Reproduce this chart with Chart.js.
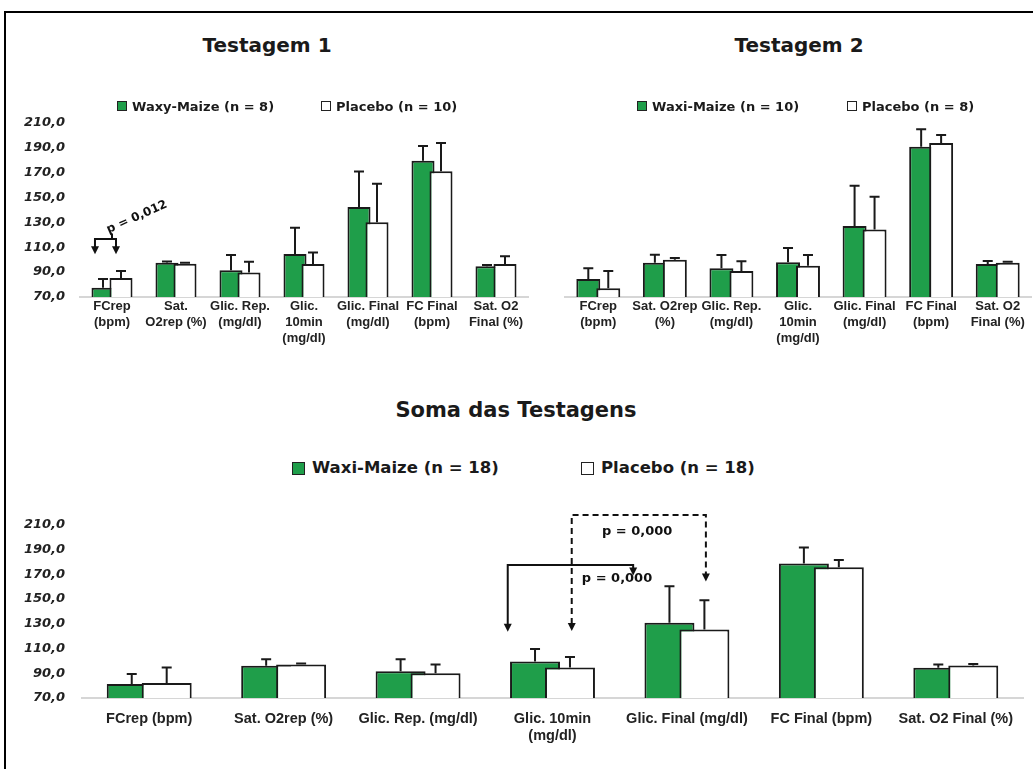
<!DOCTYPE html>
<html lang="pt">
<head>
<meta charset="utf-8">
<title>Testagens</title>
<script src="https://cdn.jsdelivr.net/npm/chart.js@4.4.1/dist/chart.umd.min.js"></script>
<style>
  html, body { margin: 0; padding: 0; background: #fff; }
  body { width: 1033px; height: 769px; position: relative; overflow: hidden; font-family: 'DejaVu Sans', sans-serif; color: #1a1a1a; }
  .frame { position: absolute; left: 4px; top: 11px; right: -4px; bottom: -4px; border-top: 2px solid #000; border-left: 2px solid #000; }
  .title { position: absolute; transform: translateX(-50%); font-weight: bold; white-space: nowrap; line-height: 1; }
  .legend { position: absolute; display: flex; align-items: center; font-weight: bold; white-space: nowrap; line-height: 1; }
  .legend i { display: inline-block; box-sizing: border-box; border: 1.5px solid #222; }
  .box { position: absolute; }
</style>
</head>
<body>
<div class="frame"></div>

<div class="title" style="left:267px; top:35px; font-size:20px">Testagem 1</div>
<div class="title" style="left:799px; top:35px; font-size:20px">Testagem 2</div>
<div class="title" style="left:516px; top:400px; font-size:21px">Soma das Testagens</div>

<div class="box" style="left:0; top:100px; width:540px; height:257px"><canvas id="t1"></canvas></div>
<div class="box" style="left:540px; top:100px; width:493px; height:257px"><canvas id="t2"></canvas></div>
<div class="box" style="left:0; top:500px; width:1033px; height:258px"><canvas id="soma"></canvas></div>

<script>
const yTicks = [70, 90, 110, 130, 150, 170, 190, 210]

// Testagem 1
const t1Labels = [['FCrep', '(bpm)'], ['Sat.', 'O2rep (%)'], ['Glic. Rep.', '(mg/dl)'], ['Glic.', '10min', '(mg/dl)'], ['Glic. Final', '(mg/dl)'], ['FC Final', '(bpm)'], ['Sat. O2', 'Final (%)']]
const t1Series = ['Waxy-Maize (n = 8)', 'Placebo (n = 10)']
const t1Waxy = [77.5, 97.6, 91.4, 104.5, 142.4, 179.6, 94.7]
const t1WaxySd = [7.0, 0.9, 12.4, 21.2, 28.4, 11.8, 1.0]
const t1Placebo = [85.2, 96.8, 89.6, 96.5, 130.1, 171.0, 96.5]
const t1PlaceboSd = [5.7, 0.7, 8.8, 9.3, 30.9, 22.7, 6.2]
const t1P = 'p = 0,012'

// Testagem 2
const t2Labels = [['FCrep', '(bpm)'], ['Sat. O2rep', '(%)'], ['Glic. Rep.', '(mg/dl)'], ['Glic.', '10min', '(mg/dl)'], ['Glic. Final', '(mg/dl)'], ['FC Final', '(bpm)'], ['Sat. O2', 'Final (%)']]
const t2Series = ['Waxi-Maize (n = 10)', 'Placebo (n = 8)']
const t2Waxi = [83.9, 96.5, 92.2, 96.8, 124.9, 186.3, 95.5]
const t2WaxiSd = [8.3, 6.2, 10.3, 11.1, 31.2, 13.4, 2.3]
const t2Placebo = [76.7, 98.8, 90.1, 94.2, 122.3, 189.1, 96.5]
const t2PlaceboSd = [13.4, 1.4, 7.5, 8.3, 25.3, 6.2, 0.7]

// Soma das testagens
const somaLabels = ['FCrep (bpm)', 'Sat. O2rep (%)', 'Glic. Rep. (mg/dl)', ['Glic. 10min', '(mg/dl)'], 'Glic. Final (mg/dl)', 'FC Final (bpm)', 'Sat. O2 Final (%)']
const somaSeries = ['Waxi-Maize (n = 18)', 'Placebo (n = 18)']
const somaWaxi = [81.3, 96.0, 91.7, 99.5, 130.9, 178.8, 94.4]
const somaWaxiSd = [8.0, 5.4, 9.7, 10.2, 29.4, 12.9, 2.7]
const somaPlacebo = [82.1, 97.1, 90.1, 94.7, 125.3, 175.6, 96.3]
const somaPlaceboSd = [12.6, 0.8, 7.0, 8.5, 23.8, 6.0, 1.1]
const somaP = ['p = 0,000', 'p = 0,000']

const GREEN = '#1f9e4a'
const EDGE = '#1a1a1a'

function arrowHead(ctx, x, tip, size) {
  ctx.beginPath()
  ctx.moveTo(x - size / 2, tip - size)
  ctx.lineTo(x + size / 2, tip - size)
  ctx.lineTo(x, tip)
  ctx.closePath()
  ctx.fill()
}

// white bars are drawn over the green ones (Excel-like overlap), then the error bars
const overlapDraw = {
  id: 'overlapDraw',
  beforeDatasetsDraw(chart, args, opts) {
    const ctx = chart.ctx
    const area = chart.chartArea
    const y = chart.scales.y
    ctx.save()
    ctx.beginPath()
    ctx.rect(area.left, 0, area.right - area.left, area.bottom)
    ctx.clip()
    chart.data.datasets.forEach((ds, i) => chart.getDatasetMeta(i).controller.draw())
    ctx.strokeStyle = EDGE
    ctx.lineWidth = 2
    chart.data.datasets.forEach((ds, i) => {
      chart.getDatasetMeta(i).data.forEach((bar, j) => {
        const top = y.getPixelForValue(ds.data[j] + ds.sd[j])
        ctx.beginPath()
        ctx.moveTo(bar.x, bar.y)
        ctx.lineTo(bar.x, top)
        ctx.moveTo(bar.x - opts.cap / 2, top)
        ctx.lineTo(bar.x + opts.cap / 2, top)
        ctx.stroke()
      })
    })
    ctx.restore()
    return false
  }
}

const annotations = {
  id: 'annotations',
  afterDraw(chart, args, opts) {
    const ctx = chart.ctx
    const x = chart.scales.x, y = chart.scales.y
    const step = x.width / x.getLabels().length
    const px = (c, off) => x.getPixelForValue(c) + off * step
    const head = opts.head || 8
    ctx.save()
    ctx.strokeStyle = '#111'
    ctx.fillStyle = '#111'
    ctx.lineWidth = 2
    ;(opts.brackets || []).forEach(b => {
      const xl = px(b.cats[0], b.offs[0]), xr = px(b.cats[1], b.offs[1])
      const yh = y.getPixelForValue(b.top)
      const yl = y.getPixelForValue(b.tips[0]), yr = y.getPixelForValue(b.tips[1])
      ctx.setLineDash(b.dash || [])
      ctx.beginPath()
      ctx.moveTo(xl, yl - head + 1)
      ctx.lineTo(xl, yh)
      ctx.lineTo(xr, yh)
      ctx.lineTo(xr, yr - head + 1)
      if (b.stem) {
        const xs = px(b.stem.cat, b.stem.off)
        ctx.moveTo(xs, yh)
        ctx.lineTo(xs, y.getPixelForValue(b.stem.to))
      }
      ctx.stroke()
      ctx.setLineDash([])
      arrowHead(ctx, xl, yl, head)
      arrowHead(ctx, xr, yr, head)
    })
    ;(opts.texts || []).forEach(t => {
      ctx.save()
      ctx.translate(px(t.cat, t.off), y.getPixelForValue(t.value))
      ctx.rotate((t.angle || 0) * Math.PI / 180)
      ctx.font = `bold ${t.size}px 'DejaVu Sans', sans-serif`
      ctx.textAlign = 'center'
      ctx.textBaseline = 'middle'
      ctx.fillStyle = '#111'
      ctx.fillText(t.text, 0, 0)
      ctx.restore()
    })
    ctx.restore()
  }
}

function htmlLegend(chart, spots, box, font, gap) {
  chart.data.datasets.forEach((ds, i) => {
    const item = document.createElement('div')
    item.className = 'legend'
    item.style.left = spots[i][0] + 'px'
    item.style.top = spots[i][1] + 'px'
    item.style.height = (box + 6) + 'px'
    item.style.fontSize = font + 'px'
    const sw = document.createElement('i')
    sw.style.width = box + 'px'
    sw.style.height = box + 'px'
    sw.style.marginRight = gap + 'px'
    sw.style.background = ds.backgroundColor
    item.append(sw, ds.label)
    document.body.append(item)
  })
}

function makeChart(id, cfg) {
  const bar = (label, data, sd, color) => ({
    label, data, sd,
    backgroundColor: color,
    borderColor: EDGE,
    borderWidth: 2,
    barPercentage: cfg.barPct,
    categoryPercentage: cfg.catPct
  })
  return new Chart(document.getElementById(id), {
    type: 'bar',
    data: {
      labels: cfg.labels,
      datasets: [
        bar(cfg.series[0], cfg.waxy, cfg.waxySd, GREEN),
        bar(cfg.series[1], cfg.placebo, cfg.placeboSd, '#ffffff')
      ]
    },
    options: {
      responsive: true,
      maintainAspectRatio: false,
      animation: false,
      layout: { padding: cfg.padding },
      plugins: {
        legend: { display: false },
        tooltip: { enabled: false },
        overlapDraw: { cap: cfg.cap },
        annotations: cfg.annotations || {}
      },
      scales: {
        x: {
          grid: { display: false, drawTicks: false },
          border: { color: '#d6d6d6', width: 2 },
          ticks: { color: '#222', font: cfg.xFont, padding: cfg.xPad, maxRotation: 0, autoSkip: false },
          afterFit: s => { s.height = cfg.xHeight }
        },
        y: {
          display: cfg.showY,
          min: 70,
          max: 210,
          afterBuildTicks: s => { s.ticks = yTicks.map(v => ({ value: v })) },
          grid: { display: false, drawTicks: false },
          border: { display: false },
          ticks: {
            color: '#222',
            padding: cfg.yPad,
            font: { family: "'DejaVu Sans', sans-serif", size: 13, weight: 'bold', style: 'italic' },
            callback: v => v.toFixed(1).replace('.', ',')
          },
          afterFit: s => { s.width = cfg.yWidth }
        }
      }
    },
    plugins: [overlapDraw, annotations]
  })
}

const topFont = { family: "'Liberation Sans', Arial, sans-serif", size: 13, weight: 'bold', lineHeight: 1.2 }

const chart1 = makeChart('t1', {
  labels: t1Labels, series: t1Series,
  waxy: t1Waxy, waxySd: t1WaxySd, placebo: t1Placebo, placeboSd: t1PlaceboSd,
  barPct: 1.28, catPct: 0.5625, cap: 10,
  padding: { top: 16, right: 12, left: 0, bottom: 0 },
  showY: true, yWidth: 80, yPad: 15,
  xFont: topFont, xPad: 2, xHeight: 60,
  annotations: {
    head: 8,
    brackets: [
      { cats: [0, 0], offs: [-0.266, 0.0625], top: 116.6, tips: [104.3, 104.3], stem: { cat: 0, off: 0, to: 121 } }
    ],
    texts: [
      { text: t1P, cat: 0, off: 0.39, value: 134.2, angle: -24, size: 12 }
    ]
  }
})

const chart2 = makeChart('t2', {
  labels: t2Labels, series: t2Series,
  waxy: t2Waxi, waxySd: t2WaxiSd, placebo: t2Placebo, placeboSd: t2PlaceboSd,
  barPct: 1.2, catPct: 0.6, cap: 10,
  padding: { top: 16, right: 2, left: 25, bottom: 0 },
  showY: false, yWidth: 0, yPad: 0,
  xFont: topFont, xPad: 2, xHeight: 60
})

const chart3 = makeChart('soma', {
  labels: somaLabels, series: somaSeries,
  waxy: somaWaxi, waxySd: somaWaxiSd, placebo: somaPlacebo, placeboSd: somaPlaceboSd,
  barPct: 1.43, catPct: 0.52, cap: 10,
  padding: { top: 24, right: 10, left: 0, bottom: 0 },
  showY: true, yWidth: 82, yPad: 17,
  xFont: { family: "'Liberation Sans', Arial, sans-serif", size: 14.5, weight: 'bold', lineHeight: 1.2 },
  xPad: 12, xHeight: 60,
  annotations: {
    head: 8,
    brackets: [
      { cats: [3, 4], offs: [-0.333, -0.40], top: 177.6, tips: [123.5, 169] },
      { cats: [3, 4], offs: [0.143, 0.141], top: 218, tips: [124.1, 164.1], dash: [6, 4] }
    ],
    texts: [
      { text: somaP[0], cat: 3, off: 0.63, value: 204.3, size: 13 },
      { text: somaP[1], cat: 3, off: 0.48, value: 166.5, size: 13 }
    ]
  }
})

htmlLegend(chart1, [[117, 98], [321, 98]], 10, 13, 5)
htmlLegend(chart2, [[637, 98], [847, 98]], 10, 13, 5)
htmlLegend(chart3, [[292, 459], [581, 459]], 13, 16.5, 7)
</script>
</body>
</html>
